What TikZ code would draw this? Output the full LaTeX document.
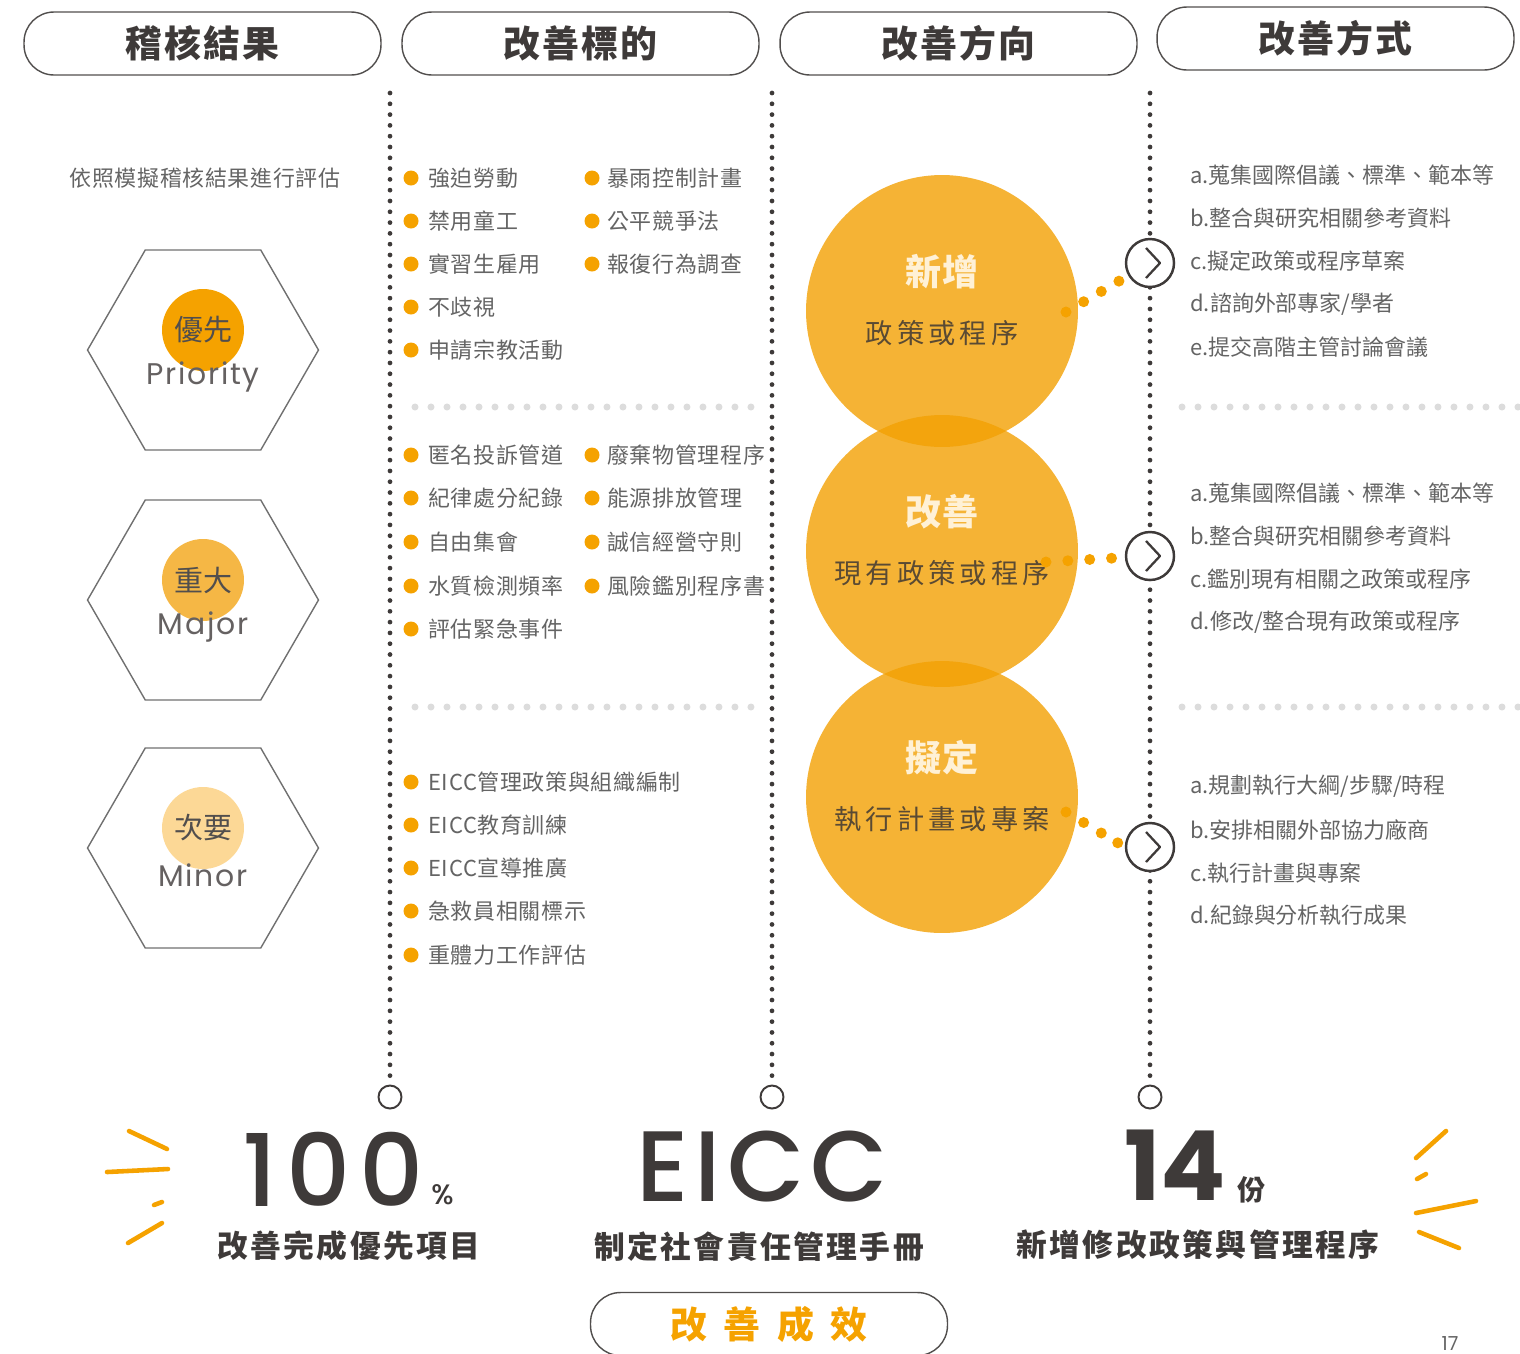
\documentclass[tikz,border=0pt]{standalone}
\usepackage{fontspec}
\setmainfont{Noto Sans CJK TC}
\newfontfamily\cjk{Noto Sans CJK TC}
\newfontfamily\latin{Poppins}
\newfontfamily\latinmed{Poppins Medium}
\usetikzlibrary{shapes.geometric,calc}

\definecolor{ink}{HTML}{3E3A39}
\definecolor{txt}{HTML}{646464}
\definecolor{amber}{HTML}{F5A200}
\definecolor{sun}{HTML}{F2A003}
\definecolor{major}{HTML}{F5B745}
\definecolor{minor}{HTML}{FCD896}
\definecolor{cream}{HTML}{FFF1D6}
\definecolor{umber}{HTML}{5A4A33}
\definecolor{pale}{HTML}{DCDCDC}
\definecolor{hexline}{HTML}{707070}

\begin{document}
\begin{tikzpicture}[x=0.02cm,y=-0.02cm,
  head/.style={draw=ink!90,line width=0.8pt,rounded corners=0.6cm,
    minimum width=7.14cm,minimum height=1.26cm,inner sep=0pt,text=ink,
    font=\cjk\bfseries\fontsize{21pt}{24pt}\selectfont\addfontfeature{LetterSpace=5}},
  item/.style={anchor=west,inner sep=0pt,text=txt,
    font=\cjk\fontsize{12.5pt}{15pt}\selectfont\addfontfeature{LetterSpace=3}},
  method/.style={anchor=west,inner sep=0pt,text=txt,
    font=\cjk\fontsize{12.5pt}{15pt}\selectfont},
  vdots/.style={ink,line width=2.7pt,line cap=round,dash pattern=on 0pt off 0.216cm},
  hdots/.style={pale,line width=4pt,line cap=round,dash pattern=on 0pt off 0.32cm},
  hexa/.style={draw=hexline,line width=0.8pt,regular polygon,regular polygon sides=6,
    minimum size=4.62cm,inner sep=0pt},
  level/.style={circle,minimum size=1.64cm,inner sep=0pt},
  zh/.style={inner sep=0pt,text=ink!90,font=\cjk\fontsize{16.5pt}{19pt}\selectfont},
  en/.style={inner sep=0pt,text=ink!80,
    font=\latin\fontsize{17pt}{20pt}\selectfont\addfontfeature{LetterSpace=6}},
  way/.style={circle,fill=sun,fill opacity=0.8,minimum size=5.44cm,inner sep=0pt},
  waytitle/.style={inner sep=0pt,text=cream,font=\cjk\bfseries\fontsize{20.5pt}{24pt}\selectfont},
  waytext/.style={inner sep=0pt,text=umber,
    font=\cjk\fontsize{15.5pt}{18pt}\selectfont\addfontfeature{LetterSpace=15}},
  ring/.style={circle,draw=ink,line width=1.4pt,fill=white,minimum size=0.96cm,inner sep=0pt},
  endring/.style={circle,draw=ink,line width=1.1pt,fill=white,minimum size=0.46cm,inner sep=0pt},
  chev/.style={ink,line width=1.3pt,line join=round},
  flare/.style={amber,line width=2.6pt,line cap=round},
  big/.style={inner sep=0pt,anchor=base,text depth=0pt,text=ink,
    font=\latinmed\fontsize{57pt}{60pt}\selectfont\addfontfeature{LetterSpace=9}},
  caption/.style={inner sep=0pt,text=ink,
    font=\cjk\bfseries\fontsize{17.5pt}{20pt}\selectfont\addfontfeature{LetterSpace=8}},
]
\useasboundingbox (0,0) rectangle (1520,1353);

\node[head] (h1) at (202.5,43.5) {稽核結果};
\node[head] (h2) at (580.5,43.5) {改善標的};
\node[head] (h3) at (958.5,43.5) {改善方向};
\node[head] (h4) at (1335.5,38.5) {改善方式};

% column guides
\foreach \i/\x in {1/390,2/772,3/1150} {
  \coordinate (top\i) at (\x,93);
  \node[endring] (end\i) at (\x,1097) {};
  \draw[vdots] (top\i) -- (end\i.north);
}
\foreach \y in {407,707} {
  \draw[hdots] (415,\y) -- (755,\y);
  \draw[hdots] (1182,\y) -- (1520,\y);
}

% audit levels
\node[item,anchor=center] (howto) at (205,178) {依照模擬稽核結果進行評估};
\foreach \n/\y/\c/\z/\e in {pri/350/amber/優先/Priority,maj/600/major/重大/Major,min/848/minor/次要/Minor} {
  \node[hexa] (hex-\n) at (203,\y) {};
  \node[level,fill=\c] (lv-\n) at ($(hex-\n)+(0,-20)$) {};
  \node[zh] (zh-\n) at (lv-\n) {\z};
  \node[en] (en-\n) at ($(hex-\n)+(0,27)$) {\e};
}

% targets
\foreach \y/\t in {178/強迫勞動,221/禁用童工,264/實習生雇用,307/不歧視,350/申請宗教活動,
    455/匿名投訴管道,498/紀律處分紀錄,542/自由集會,586/水質檢測頻率,629/評估緊急事件,
    782/EICC管理政策與組織編制,825/EICC教育訓練,868/EICC宣導推廣,911/急救員相關標示,955/重體力工作評估} {
  \node[item] (ta-\y) at (428,\y) {\t};
  \fill[amber] ($(ta-\y.west)+(-17,0)$) circle (7.5);
}
\foreach \y/\t in {178/暴雨控制計畫,221/公平競爭法,264/報復行為調查,
    455/廢棄物管理程序,498/能源排放管理,542/誠信經營守則,586/風險鑑別程序書} {
  \node[item] (tb-\y) at (607,\y) {\t};
  \fill[amber] ($(tb-\y.west)+(-15,0)$) circle (7.5);
}

% directions
\foreach \n/\y/\a/\b in {1/311/新增/政策或程序,2/551/改善/現有政策或程序,3/797/擬定/執行計畫或專案} {
  \node[way] (way\n) at (942,\y) {};
  \node[waytitle] (wt\n) at ($(way\n)+(0,-39)$) {\a};
  \node[waytext] (wx\n) at ($(way\n)+(0,22)$) {\b};
}

% methods
\foreach \y/\t in {175/a.蒐集國際倡議、標準、範本等,218/b.整合與研究相關參考資料,261/c.擬定政策或程序草案,
    304/{d.諮詢外部專家/學者},347/e.提交高階主管討論會議,
    493/a.蒐集國際倡議、標準、範本等,536/b.整合與研究相關參考資料,579/c.鑑別現有相關之政策或程序,
    622/{d.修改/整合現有政策或程序},
    786/{a.規劃執行大綱/步驟/時程},830/b.安排相關外部協力廠商,873/c.執行計畫與專案,915/d.紀錄與分析執行成果}
  \node[method] (r-\y) at (1190,\y) {\t};

\foreach \i/\y in {1/263,2/556,3/847} {
  \node[ring] (ar\i) at (1150,\y) {};
  \draw[chev] ($(ar\i)+(-4,-15)$) -- ($(ar\i)+(10,0)$) -- ($(ar\i)+(-4,15)$);
}
\coordinate (s1) at (1066,312);
\coordinate (s2) at (1046,562);
\coordinate (s3) at (1066,812);
\foreach \f in {0,0.21,0.42,0.63} {
  \fill[amber] ($(s1)!\f!(ar1)$) circle (5.5);
  \fill[amber] ($(s2)!\f!(ar2)$) circle (5.5);
}
\foreach \f in {0,0.3,0.6,0.88}
  \fill[amber] ($(s3)!\f!(ar3.west)$) circle (5.5);

% results
\draw[flare] (129,1131) -- (167,1149);
\draw[flare] (107,1172) -- (168,1169);
\draw[flare] (154,1205) -- (162,1202);
\draw[flare] (128,1243) -- (162,1223);
\draw[flare] (1416,1158) -- (1446,1131);
\draw[flare] (1417,1179) -- (1426,1174);
\draw[flare] (1416,1213) -- (1476,1201);
\draw[flare] (1419,1232) -- (1459,1248);

\node[big] (pct) at (333,1206) {100};
\node[inner sep=0pt,anchor=base west,text depth=0pt,text=ink,font=\latinmed\fontsize{16pt}{18pt}\selectfont]
  (pctsign) at (431,1204) {\%};
\node[caption] (cap1) at (349,1246) {改善完成優先項目};
\node[big,font=\latinmed\fontsize{57pt}{60pt}\selectfont\addfontfeature{LetterSpace=6}] (eicc) at (762,1201) {EICC};
\node[caption] (cap2) at (759,1247) {制定社會責任管理手冊};
\node[big,font=\latin\bfseries\fontsize{55pt}{60pt}\selectfont] (cnt) at (1175,1200) {14};
\node[inner sep=0pt,anchor=base,text=ink,font=\cjk\bfseries\fontsize{16pt}{18pt}\selectfont]
  (unit) at (1252,1200) {份};
\node[caption] (cap3) at (1198,1245) {新增修改政策與管理程序};

\node[head,text=amber,font=\cjk\bfseries\fontsize{21pt}{24pt}\selectfont\addfontfeature{LetterSpace=45}]
  (result) at (769,1324) {改善成效};
\node[inner sep=0pt,anchor=base,text depth=0pt,text=txt,font=\latin\fontsize{11pt}{13pt}\selectfont]
  (page) at (1450,1350) {17};
\end{tikzpicture}
\end{document}
